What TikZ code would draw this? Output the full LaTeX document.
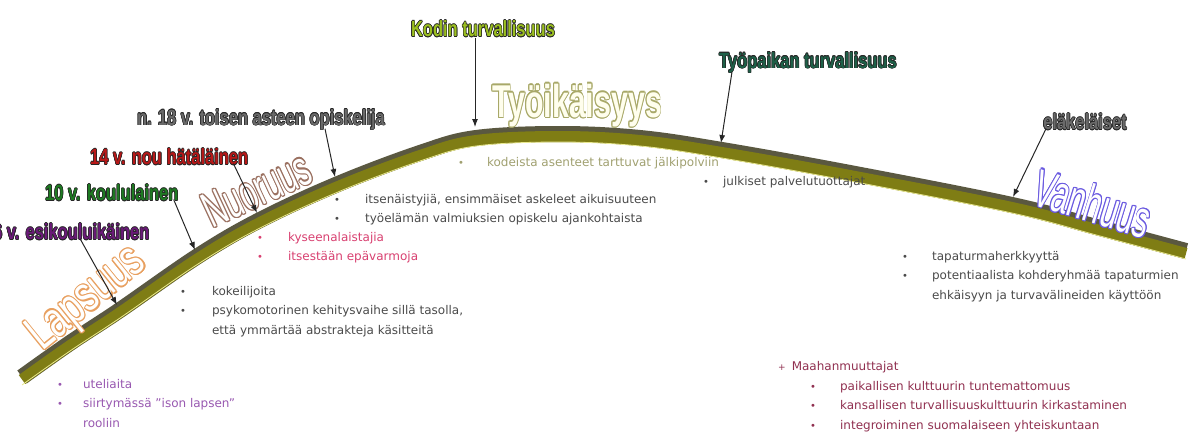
\documentclass[tikz,border=0pt]{standalone}
\usepackage{fontspec}
\setmainfont{DejaVu Sans}
\newfontfamily\headfont[FakeStretch=0.75]{Liberation Sans}
\newfontfamily\bigfont{Liberation Sans}
\usepackage{contour}
\contournumber{10}
\usetikzlibrary{positioning}
\usetikzlibrary{arrows.meta}
\definecolor{bandolive}{HTML}{7F7D14}
\definecolor{banddark}{HTML}{5A5840}
\definecolor{bandlite}{HTML}{E8E890}
\definecolor{esicol}{HTML}{6A1A78}
\definecolor{koulucol}{HTML}{1E7A22}
\definecolor{nuorcol}{HTML}{B81818}
\definecolor{opiscol}{HTML}{6A6A6A}
\definecolor{koticol}{HTML}{9CC020}
\definecolor{tyocol}{HTML}{1E6048}
\definecolor{lapsline}{HTML}{E8A060}
\definecolor{nuorline}{HTML}{9A7060}
\definecolor{tyoline}{HTML}{A8A868}
\definecolor{vanhline}{HTML}{6A5AE0}
\definecolor{txtgray}{HTML}{4A4A4A}
\definecolor{txtolive}{HTML}{A0A070}
\definecolor{txtred}{HTML}{D84070}
\definecolor{txtpurple}{HTML}{9858B0}
\definecolor{txtmaroon}{HTML}{903050}
\newcommand{\outword}[3]{{\contourlength{1.4pt}\color{#2}\contour{#1}{#3}}}
\newcommand{\ageword}[2]{{\contourlength{0.6pt}\color{#1}\contour{black!85}{#2}}}
\newcommand{\bul}{{\fontsize{10}{10}\selectfont •}}
\renewcommand{\arraystretch}{1.35}
\tikzset{
    bandedge/.style = {line width=16pt, draw=banddark},
    bandbody/.style = {line width=11pt, draw=bandolive, yshift=-2.5pt},
    bandlite/.style = {line width=0.8pt, draw=bandlite, yshift=-8pt},
    stage/.style = {inner sep=0, font=\bigfont\fontsize{50}{50}\selectfont},
    agelabel/.style = {inner sep=0, font=\headfont\bfseries\fontsize{22}{22}\selectfont},
    textlist/.style = {anchor=north west, inner sep=0, font=\fontsize{12}{14.4}\selectfont},
    edgen/.style = {-{Latex[length=8pt,width=6pt]}, line width=1pt, black!85},
}

\begin{document}
\begin{tikzpicture}[x=1pt,y=-1pt]
\useasboundingbox (0,0) rectangle (1193,439);
% the life curve
\foreach \s in {bandedge,bandbody,bandlite}
  \draw[\s] plot[smooth,tension=0.6] coordinates {(22,377) (70,343) (120,310) (198,256) (260,220) (338,184) (420,153) (476,138) (560,134) (640,138) (722,150) (850,173) (1012,205) (1100,228) (1186,251)};
%
\coordinate (t6) at (117,305);
\coordinate (t10) at (195,250);
\coordinate (t14) at (257,213);
\coordinate (t18) at (335,177);
\coordinate (tkoti) at (475,127);
\coordinate (ttyo) at (721,143);
\coordinate (telake) at (1013,197);
% stages
\node[stage, rotate=39] (lapsuus) at (88,300) {\scalebox{0.72}[1]{\outword{lapsline}{white}{Lapsuus}}};
\node[stage, rotate=25] (nuoruus) at (257,190) {\scalebox{0.6}[1]{\outword{nuorline}{white}{Nuoruus}}};
\node[stage, font=\bigfont\bfseries\fontsize{46}{46}\selectfont] (tyoika) at (577,106) {\scalebox{0.66}[1]{\outword{tyoline}{white!93!yellow}{Työikäisyys}}};
\node[stage, rotate=-17, font=\bigfont\fontsize{53}{53}\selectfont] (vanhuus) at (1093,204) {\scalebox{0.58}[1]{\outword{vanhline}{white}{Vanhuus}}};
% labels
\node[agelabel, anchor=west] (l6) at (-7,232) {\ageword{esicol}{6 v. esikouluikäinen}};
\node[agelabel, anchor=west] (l10) at (45,193) {\ageword{koulucol}{10 v. koululainen}};
\node[agelabel, anchor=west] (l14) at (90,157) {\ageword{nuorcol}{14 v. nou hätäläinen}};
\node[agelabel, anchor=west] (l18) at (137,120) {\ageword{opiscol}{n. 18 v. toisen asteen opiskelija}};
\node[agelabel] (lkoti) at (483,29) {\ageword{koticol}{Kodin turvallisuus}};
\node[agelabel] (ltyo) at (808,63) {\ageword{tyocol}{Työpaikan turvallisuus}};
\node[agelabel] (lelake) at (1085,122) {\ageword{opiscol}{eläkeläiset}};
%
\draw[edgen] ([xshift=87pt,yshift=2pt]l6.south west) -- (t6);
\draw[edgen] ([xshift=-5pt,yshift=2pt]l10.south east) -- (t10);
\draw[edgen] ([xshift=-15pt,yshift=2pt]l14.south east) -- (t14);
\draw[edgen] ([xshift=-60pt,yshift=2pt]l18.south east) -- (t18);
\draw[edgen] ([xshift=-8pt]lkoti.south) -- (tkoti);
\draw[edgen] ([xshift=13pt,yshift=2pt]ltyo.south west) -- (ttyo);
\draw[edgen] ([xshift=3pt,yshift=2pt]lelake.south west) -- (telake);
% texts
\node[textlist, text=txtolive] (kodit) at (458,152.5) {\begin{tabular}{@{}l@{\hspace{23pt}}l@{}}
\bul & kodeista asenteet tarttuvat jälkipolviin \\ \end{tabular}};
\node[textlist, text=txtgray] (julkiset) at (703,171.5) {\begin{tabular}{@{}l@{\hspace{14pt}}l@{}}
\bul & julkiset palvelutuottajat \\ \end{tabular}};
\node[textlist, text=txtgray] (aikuiset) at (334,189.5) {\begin{tabular}{@{}l@{\hspace{25pt}}l@{}}
\bul & itsenäistyjiä, ensimmäiset askeleet aikuisuuteen \\
\bul & työelämän valmiuksien opiskelu ajankohtaista \\ \end{tabular}};
\node[textlist, text=txtred] (nuoret) at (257,227.5) {\begin{tabular}{@{}l@{\hspace{25pt}}l@{}}
\bul & kyseenalaistajia \\
\bul & itsestään epävarmoja \\ \end{tabular}};
\node[textlist, text=txtgray] (kokeilu) at (180,281.5) {\begin{tabular}{@{}l@{\hspace{26pt}}l@{}}
\bul & kokeilijoita \\
\bul & psykomotorinen kehitysvaihe sillä tasolla, \\
 & että ymmärtää abstrakteja käsitteitä \\ \end{tabular}};
\node[textlist, text=txtpurple] (lapset) at (57,374.5) {\begin{tabular}{@{}l@{\hspace{20pt}}l@{}}
\bul & uteliaita \\
\bul & siirtymässä "ison lapsen" \\
 & rooliin \\ \end{tabular}};
\node[textlist, text=txtgray] (vanhat) at (902,246.5) {\begin{tabular}{@{}l@{\hspace{24pt}}l@{}}
\bul & tapaturmaherkkyyttä \\
\bul & potentiaalista kohderyhmää tapaturmien \\
 & ehkäisyyn ja turvavälineiden käyttöön \\ \end{tabular}};
\node[textlist, text=txtmaroon] (maahan) at (778,356.5) {\begin{tabular}{@{}l@{\hspace{6pt}}l@{}}
{\fontsize{9}{9}\selectfont +} & Maahanmuuttajat \\ \end{tabular}};
\node[textlist, text=txtmaroon] (maahanlista) at (810,376.5) {\begin{tabular}{@{}l@{\hspace{24pt}}l@{}}
\bul & paikallisen kulttuurin tuntemattomuus \\
\bul & kansallisen turvallisuuskulttuurin kirkastaminen \\
\bul & integroiminen suomalaiseen yhteiskuntaan \\ \end{tabular}};

\end{tikzpicture}
\end{document}
